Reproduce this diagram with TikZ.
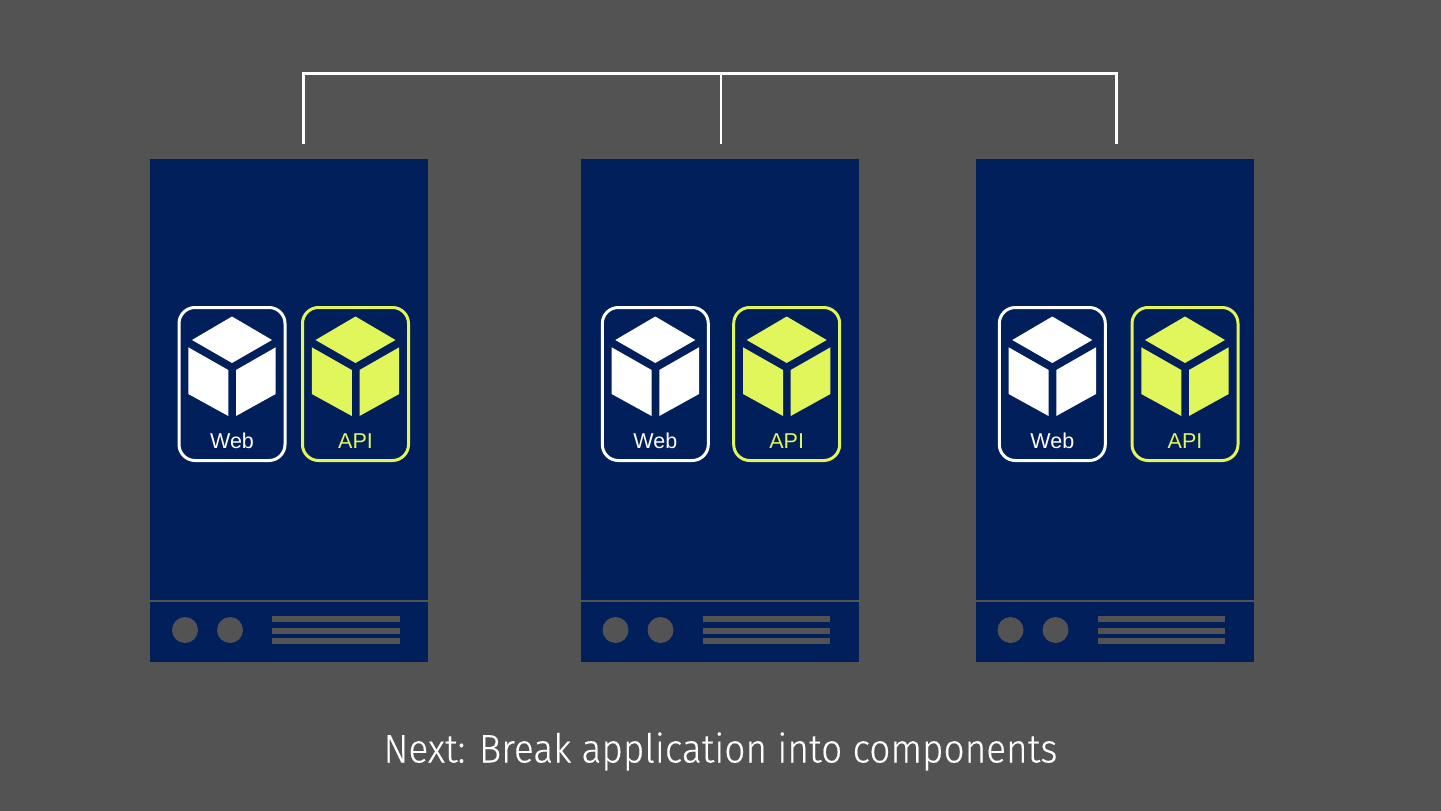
\documentclass[tikz,border=0pt]{standalone}
\usepackage{fontspec}
\setmainfont{Liberation Sans}
\newfontfamily\titlefont[FakeStretch=0.925,FakeBold=0.25]{Fira Sans Light}
\definecolor{bggray}{HTML}{535353}
\definecolor{navy}{HTML}{001F5B}
\definecolor{lime}{HTML}{E1F65A}
\tikzset{
  serverbody/.style={fill=navy,draw=none,inner sep=0pt,minimum width=278pt,minimum height=503pt},
  appbox/.style={draw=#1,line width=3pt,rounded corners=16pt,fill=navy,inner sep=0pt,minimum width=106pt,minimum height=153pt},
  applabel/.style={text=#1,font=\fontsize{21.5}{24}\selectfont,inner sep=0pt,anchor=base},
  bar/.style={fill=bggray,draw=none},
  led/.style={fill=bggray,draw=none,circle,inner sep=0pt,minimum size=26pt},
  wire/.style={draw=white,line width=3pt,line cap=butt,line join=miter},
  thinwire/.style={draw=white,line width=2pt},
  divider/.style={draw=bggray,line width=2pt},
}
% #1 x offset of the box, #2 colour, #3 label, #4 name
\newcommand{\appcube}[4]{%
  \begin{scope}[shift={(#1,0)}]
    \node[appbox=#2] (#4box) at (232,384) {};
    \fill[#2] (232,316.5) -- (272,340) -- (232,363) -- (192,340) -- cycle;
    \fill[#2] (188.3,347.3) -- (228.3,370) -- (228.3,416) -- (188.3,394) -- cycle;
    \fill[#2] (236,370) -- (275.7,347.3) -- (275.7,394) -- (236,416) -- cycle;
    \node[applabel=#2] (#4label) at (232,448) {#3};
  \end{scope}}
% #1 server x offset, #2 led/bar offset, #3 web offset, #4 api offset, #5 name
\newcommand{\serverunit}[5]{%
  \node[serverbody] (#5) at (#1+289,410.5) {};
  \draw[divider] (#1+150,601) -- (#1+428,601);
  \node[led] (#5a) at (#2+185,630) {};
  \node[led] (#5b) at (#2+230,630) {};
  \fill[bar] (#2+272,616) rectangle (#2+399.5,622);
  \fill[bar] (#2+272,627.5) rectangle (#2+399.5,633.5);
  \fill[bar] (#2+272,638) rectangle (#2+399.5,644);
  \appcube{#3}{white}{Web}{#5web}
  \appcube{#4}{lime}{API}{#5api}
}
\begin{document}
\begin{tikzpicture}[x=1pt,y=-1pt]
\useasboundingbox (0,0) rectangle (1441,811);
\fill[bggray] (0,0) rectangle (1441,811);
\serverunit{0}{0}{0}{123.5}{sa}
\serverunit{431}{430.5}{423.3}{554.7}{sb}
\serverunit{826}{825.5}{820.3}{953}{sc}
\coordinate (tl) at (303.5,73.5);
\coordinate (tm) at (720.5,73.5);
\coordinate (tr) at (1116.5,73.5);
\coordinate (dl) at (303.5,144);
\coordinate (dm) at (720.5,144);
\coordinate (dr) at (1116.5,144);
\draw[wire] (dl) -- (tl) -- (tr) -- (dr);
\draw[thinwire] (tm) -- (dm);
\node[text=white,inner sep=0pt,anchor=base,font=\titlefont\fontsize{40}{44}\selectfont] (caption) at (720.5,762.5) {Next: Break application into components};
\end{tikzpicture}
\end{document}
